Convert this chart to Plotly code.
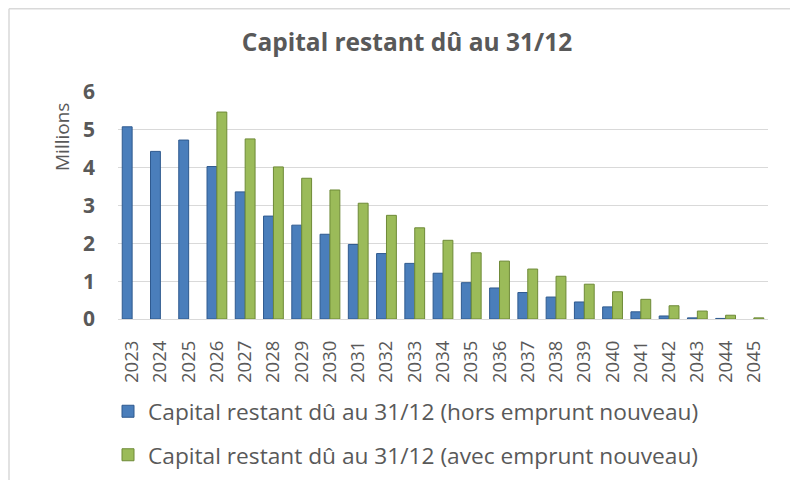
import plotly.graph_objects as go

years = [str(y) for y in range(2023, 2046)]
hors_emprunt = [5.08, 4.43, 4.73, 4.03, 3.36, 2.72, 2.48, 2.24, 1.97, 1.73, 1.47, 1.21,
                0.96, 0.82, 0.70, 0.58, 0.45, 0.32, 0.19, 0.08, 0.03, 0.015, None]
avec_emprunt = [None, None, None, 5.47, 4.76, 4.02, 3.72, 3.41, 3.06, 2.74, 2.41, 2.08,
                1.75, 1.53, 1.32, 1.13, 0.92, 0.72, 0.52, 0.35, 0.21, 0.1, 0.03]
y_ticks = [0, 1, 2, 3, 4, 5, 6]

name_hors = "Capital restant dû au 31/12 (hors emprunt nouveau)"
name_avec = "Capital restant dû au 31/12 (avec emprunt nouveau)"

grey = "#595959"
fig = go.Figure()
fig.add_trace(go.Bar(x=years, y=hors_emprunt, name=name_hors, legendgroup="a",
                     marker=dict(color="#4A7EBB", line=dict(color="#2F5A8F", width=1))))
fig.add_trace(go.Bar(x=years, y=avec_emprunt, name=name_avec, legendgroup="b",
                     marker=dict(color="#9BBB59", line=dict(color="#6E8A37", width=1))))

# page body has an 8px margin, so the figure is 8px smaller than the window
W, H = 790, 472
ml, mr, mt, mb = 110, 30, 84, 161
pw = W - ml - mr
ph = H - mt - mb

fig.update_layout(
    width=W, height=H,
    margin=dict(l=ml, r=mr, t=mt, b=mb, autoexpand=False),
    paper_bgcolor="white", plot_bgcolor="white",
    barmode="group", bargap=0.3, bargroupgap=0.0,
    title=dict(text="<b>Capital restant dû au 31/12</b>", x=399 / W, xref="container",
               xanchor="center", y=1 - 34 / H, yanchor="middle",
               font=dict(family="Open Sans", size=24.5, color=grey)),
    font=dict(family="Open Sans", color=grey),
    xaxis=dict(type="category", tickangle=-90, tickfont=dict(size=18.5, color=grey),
               showgrid=False, showline=False, ticks="", ticklen=0, automargin=False,
               ticklabelstandoff=17),
    yaxis=dict(range=[0, 6], tickvals=y_ticks, ticktext=[f"<b>{v}</b>" for v in y_ticks],
               tickfont=dict(size=21, color=grey), showgrid=True, gridcolor="#D9D9D9",
               gridwidth=1, zeroline=True, zerolinecolor="#D9D9D9", zerolinewidth=1,
               ticks="", ticklabelstandoff=22, automargin=False),
    legend=dict(orientation="v", xref="container", yref="container",
                x=100 / W, xanchor="left",
                y=1 - 382 / H, yanchor="top",
                font=dict(size=22.7, color=grey), tracegroupgap=11,
                bgcolor="rgba(0,0,0,0)"),
    showlegend=True,
)

fig.add_annotation(text="Millions", xref="paper", yref="paper",
                   x=(54 - ml) / pw, y=1 - (129 - mt) / ph, textangle=-90,
                   showarrow=False, xanchor="center", yanchor="middle",
                   font=dict(size=19, color=grey))

# chart frame (left and top edges visible)
fig.add_shape(type="line", xref="paper", yref="paper",
              x0=(1 - ml) / pw, x1=(W - ml) / pw, y0=1 + (mt - 0.8) / ph, y1=1 + (mt - 0.8) / ph,
              line=dict(color="#D9D9D9", width=1.5))
fig.add_shape(type="line", xref="paper", yref="paper",
              x0=(1 - ml) / pw, x1=(1 - ml) / pw, y0=1 + (mt - 0.8) / ph, y1=-(H - mt - ph) / ph,
              line=dict(color="#D9D9D9", width=1.5))

fig.write_html("out.html")
